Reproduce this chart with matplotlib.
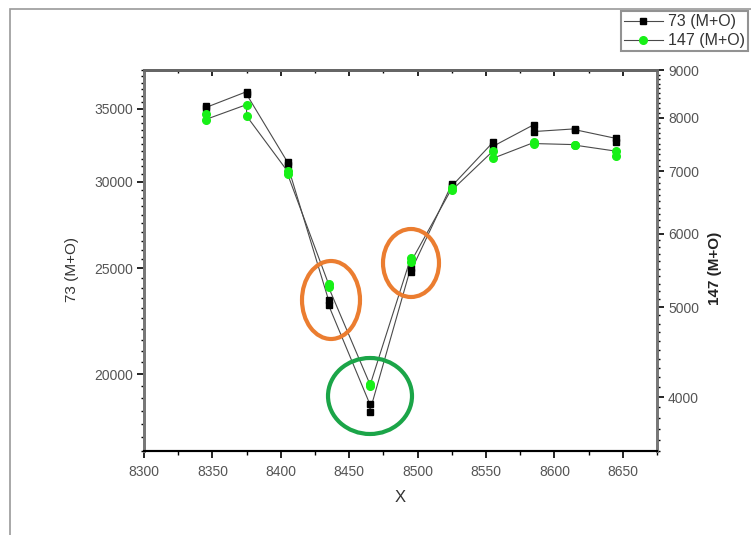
import matplotlib
matplotlib.use('Agg')
import matplotlib.pyplot as plt
import numpy as np
from matplotlib.ticker import FixedLocator, NullFormatter, FuncFormatter
from matplotlib.patches import Ellipse, Rectangle

# ---- data ----
x = [8345, 8375, 8405, 8435, 8465, 8495, 8525, 8555, 8585, 8615, 8645]
s73_a = [35250, 36300, 31270, 23360, 18780, 25040, 29860, 32610, 33860, 33560, 32890]
s73_b = [35100, 36100, 31070, 23120, 18470, 24830, 29740, 32340, 33370, 33500, 32610]
s147_a = [8080, 8260, 7000, 5290, 4135, 5650, 6710, 7360, 7520, 7480, 7360]
s147_b = [7960, 8030, 6950, 5250, 4110, 5590, 6680, 7230, 7500, 7470, 7270]
x_ticks = [8300, 8350, 8400, 8450, 8500, 8550, 8600, 8650]
left_ticks = [20000, 25000, 30000, 35000]
right_ticks = [4000, 5000, 6000, 7000, 8000, 9000]
label_73 = "73 (M+O)"
label_147 = "147 (M+O)"

W, H = 751, 535
fig = plt.figure(figsize=(W / 100, H / 100), dpi=100)
plt.rcParams['font.family'] = ['Liberation Sans', 'DejaVu Sans']

L, R, T, B = 144, 657, 70, 451
ax = fig.add_axes([L / W, 1 - B / H, (R - L) / W, (B - T) / H])
ax2 = ax.twinx()

def interleave(a, b):
    xs, ys = [], []
    for xi, ai, bi in zip(x, a, b):
        xs += [xi, xi]
        ys += [ai, bi]
    return xs, ys

xs, ys73 = interleave(s73_a, s73_b)
_, ys147 = interleave(s147_a, s147_b)

green = '#17F017'
line_col = '#4a4a4a'
h1, = ax.plot(xs, ys73, color=line_col, lw=0.8, marker='s', ms=5,
              mfc='black', mec='black', label=label_73, zorder=3)
h2, = ax2.plot(xs, ys147, color=line_col, lw=0.8, marker='o', ms=5.5,
               mfc=green, mec=green, label=label_147, zorder=3)

ax.set_yscale('log')
ax2.set_yscale('log')
ax.set_xlim(8300, 8675)
ax.set_ylim(17000, 38000)
ax2.set_ylim(3500, 9000)

fmt = FuncFormatter(lambda v, p: f"{int(round(v))}")
ax.yaxis.set_major_locator(FixedLocator(left_ticks))
ax.yaxis.set_major_formatter(fmt)
ax.yaxis.set_minor_locator(FixedLocator(np.arange(17000, 38001, 500)))
ax.yaxis.set_minor_formatter(NullFormatter())
ax2.yaxis.set_major_locator(FixedLocator(right_ticks))
ax2.yaxis.set_major_formatter(fmt)
ax2.yaxis.set_minor_locator(FixedLocator(np.arange(3500, 9001, 100)))
ax2.yaxis.set_minor_formatter(NullFormatter())
ax.xaxis.set_major_locator(FixedLocator(x_ticks))
ax.xaxis.set_minor_locator(FixedLocator(np.arange(8325, 8676, 50)))
ax.xaxis.set_major_formatter(fmt)

tick_col = '#555555'
ax.tick_params(axis='x', which='major', direction='out', length=5, width=1.2,
               labelsize=10, labelcolor=tick_col, pad=5)
ax.tick_params(axis='x', which='minor', direction='out', length=3, width=1.0)
ax.tick_params(axis='y', which='major', direction='out', length=5, width=1.2,
               labelsize=10, labelcolor=tick_col, pad=3)
ax.tick_params(axis='y', which='minor', direction='out', length=2.5, width=1.0)
ax2.tick_params(axis='y', which='major', direction='out', length=5, width=1.2,
                labelsize=10, labelcolor=tick_col, pad=3)
ax2.tick_params(axis='y', which='minor', direction='out', length=2.5, width=1.0)

sec = ax.secondary_xaxis('top')
sec.xaxis.set_major_locator(FixedLocator(x_ticks))
sec.xaxis.set_minor_locator(FixedLocator(np.arange(8325, 8676, 50)))
sec.tick_params(which='major', direction='in', length=4, width=1.2, labeltop=False)
sec.tick_params(which='minor', direction='in', length=2.5, width=1.0)
sec.spines['top'].set_color('#666666')
sec.spines['top'].set_linewidth(2)

for a in (ax, ax2):
    a.spines['left'].set_color('#777777')
    a.spines['left'].set_linewidth(2)
    a.spines['right'].set_color('#777777')
    a.spines['right'].set_linewidth(2)
    a.spines['top'].set_color('#666666')
    a.spines['top'].set_linewidth(2)
    a.spines['bottom'].set_color('black')
    a.spines['bottom'].set_linewidth(1.5)

fig.text(72 / W, 1 - 270 / H, label_73, rotation=90, ha='center', va='center',
         fontsize=11, color='#333333')
fig.text(715 / W, 1 - 268 / H, label_147, rotation=90, ha='center', va='center',
         fontsize=11, color='#222222', fontweight='bold')
fig.text(400 / W, 1 - 497 / H, "X", ha='center', va='center', fontsize=12,
         color='#333333')

# page frame
fig.patches.append(Rectangle((10 / W, -0.1), 1.2, 1 - 9 / H + 0.1,
                             transform=fig.transFigure, fill=False,
                             edgecolor='#9a9a9a', lw=1.2))

# annotation ellipses (pixel positions)
def ell(cx, cy, w, h, color, angle=0):
    e = Ellipse((cx / W, 1 - cy / H), w / W, h / H, angle=angle,
                transform=fig.transFigure, fill=False, edgecolor=color, lw=3)
    fig.patches.append(e)

ell(331, 300, 58, 78, '#EB7D30')
ell(411, 263, 56, 68, '#EB7D30')
ell(370, 396, 84, 76, '#1BA548')

leg = fig.legend(handles=[h1, h2], loc='upper left',
                 bbox_to_anchor=(621 / W, 1 - 11 / H), frameon=True,
                 fancybox=False, fontsize=11.5, handlelength=2.4,
                 handletextpad=0.35, borderpad=0.2, labelspacing=0.25,
                 borderaxespad=0)
leg.get_frame().set_edgecolor('#777777')
leg.get_frame().set_linewidth(1.5)
for t in leg.get_texts():
    t.set_color('#333333')

fig.savefig('out.png', dpi=100)
